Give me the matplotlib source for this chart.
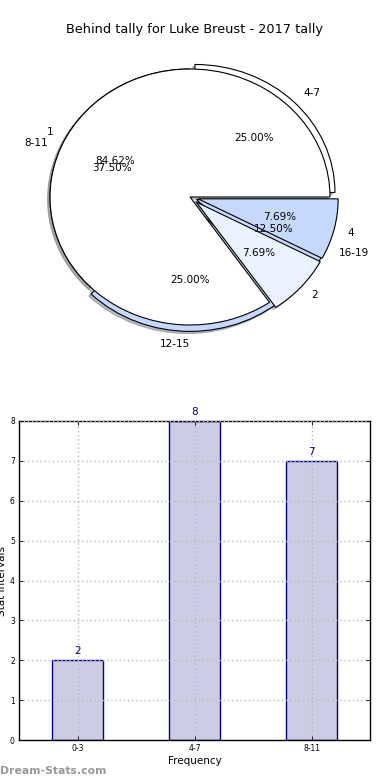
import matplotlib
matplotlib.use("Agg")
import matplotlib.pyplot as plt

# ---- data ----
title = "Behind tally for Luke Breust - 2017 tally"
pie_a_labels = ["4-7", "8-11", "12-15", "16-19"]
pie_a_values = [2, 3, 2, 1]
pie_b_labels = ["1", "2", "4"]
pie_b_values = [11, 1, 1]

bar_labels = ["0-3", "4-7", "8-11"]
bar_values = [2, 8, 7]
xlabel = "Frequency"
ylabel = "Stat Intervals"
watermark = "Dream-Stats.com"

# ---- styles ----
pie_a_colors = ["white", "white", "#c6d9fd", "#c6d9fd"]
pie_a_explode = [0.05, 0, 0.05, 0.05]
pie_b_colors = ["white", "#eaf1ff", "#c6d9fd"]
pie_b_explode = [0, 0.06, 0.06]

W, H = 390, 780
fig = plt.figure(figsize=(W / 100, H / 100), dpi=100)
fig.patch.set_facecolor("white")

fig.text(0.5, 1 - 30 / H, title, ha="center", va="center", fontsize=9.3)

# pie axes: centre (190,197), rx 140, ry 128
rx, ry, cx, cy = 140, 128, 190, 197
lim = 1.25
axp = fig.add_axes([(cx - lim * rx) / W, 1 - (cy + lim * ry) / H,
                    2 * lim * rx / W, 2 * lim * ry / H])
wp = dict(linewidth=0.8, edgecolor="black")
tp = dict(fontsize=7.5)
shadow = dict(ox=-0.012, oy=-0.012, shade=0.45)
_, ta, _ = axp.pie(pie_a_values, labels=pie_a_labels, colors=pie_a_colors, explode=pie_a_explode,
                   autopct="%1.2f%%", startangle=0, shadow=shadow, wedgeprops=wp, textprops=tp,
                   counterclock=True)
axp.pie(pie_b_values, labels=pie_b_labels, colors=pie_b_colors, explode=pie_b_explode,
        autopct="%1.2f%%", startangle=0, shadow=shadow, wedgeprops=wp, textprops=tp,
        counterclock=True)
ta[2].set_ha("right")
axp.set_aspect("auto")
axp.set_xlim(-lim, lim)
axp.set_ylim(-lim, lim)
axp.axis("off")

# bar axes
l, r, t, b = 19, 370, 421, 740
axb = fig.add_axes([l / W, 1 - b / H, (r - l) / W, (b - t) / H])
x = list(range(len(bar_values)))
axb.bar(x, bar_values, width=0.44, color="#cccce5", edgecolor="#000080", linewidth=1.0, zorder=2)
for xi, v in zip(x, bar_values):
    axb.text(xi, v + 0.1, str(v), ha="center", va="bottom", fontsize=7.5, color="#000080")
axb.set_xlim(-0.5, 2.5)
axb.set_ylim(0, 8)
axb.set_xticks(x)
axb.set_xticklabels(bar_labels)
axb.set_yticks(range(0, 9))
axb.tick_params(direction="in", labelsize=5.5, top=True, right=True, length=3, width=0.6, pad=3)
axb.grid(True, linestyle=(0, (1, 2)), color="#b8b8b8", linewidth=1.0, zorder=3)
axb.set_axisbelow(False)
axb.set_xlabel(xlabel, fontsize=7.5, labelpad=2)
axb.set_ylabel(ylabel, fontsize=7.5, labelpad=2)
for s in axb.spines.values():
    s.set_linewidth(1.0)

fig.text(0 / W, 1 - 771 / H, watermark, ha="left", va="center", fontsize=7.8, color="#999999",
         fontweight="bold")

fig.savefig("out.png", dpi=100, facecolor="white")
